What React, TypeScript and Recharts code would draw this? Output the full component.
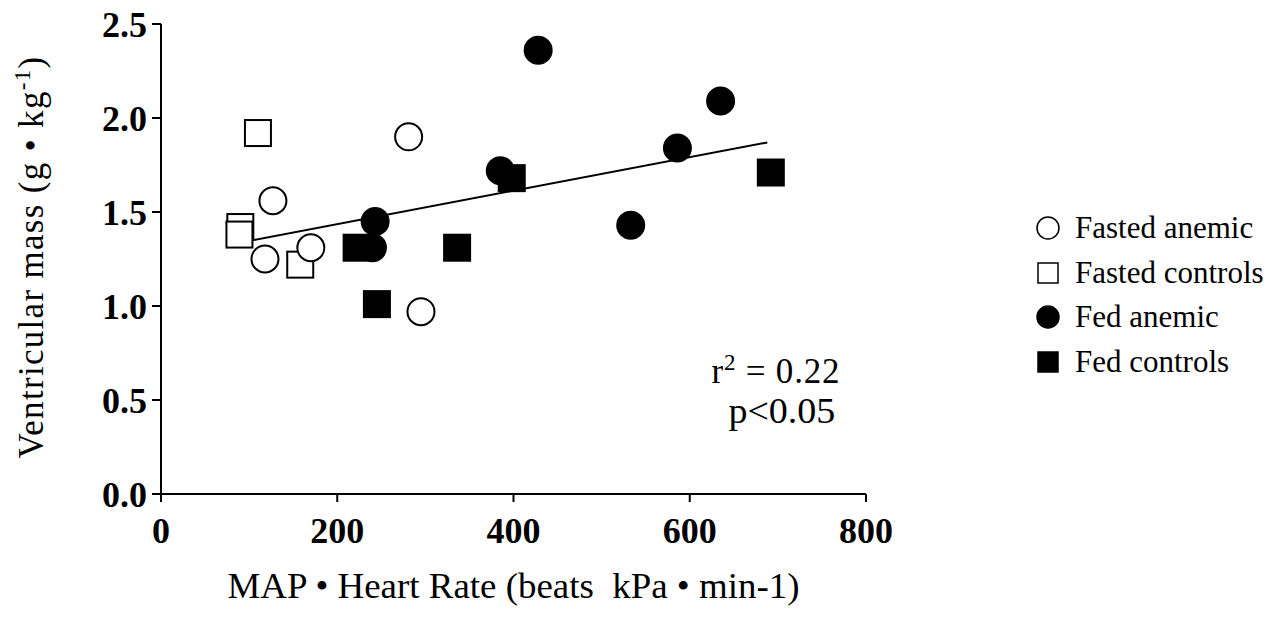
import { ScatterChart, Scatter, XAxis, YAxis, ReferenceDot } from "recharts";

// values
const fastedAnemic = [
  { x: 118, y: 1.25 },
  { x: 127, y: 1.56 },
  { x: 170, y: 1.31 },
  { x: 281, y: 1.9 },
  { x: 295, y: 0.97 },
];
const fastedControls = [
  { x: 110, y: 1.92 },
  { x: 90, y: 1.42 },
  { x: 89, y: 1.38 },
  { x: 158, y: 1.22 },
];
const fedAnemic = [
  { x: 243, y: 1.45 },
  { x: 240, y: 1.31 },
  { x: 385, y: 1.72 },
  { x: 428, y: 2.36 },
  { x: 533, y: 1.43 },
  { x: 586, y: 1.84 },
  { x: 635, y: 2.09 },
];
const fedControls = [
  { x: 222, y: 1.31 },
  { x: 245, y: 1.01 },
  { x: 336, y: 1.31 },
  { x: 398, y: 1.68 },
  { x: 692, y: 1.71 },
];
const fitLine = [
  { x: 104, y: 1.35 },
  { x: 688, y: 1.87 },
];
const xTicks = [0, 200, 400, 600, 800];
const yTicks = [0, 0.5, 1.0, 1.5, 2.0, 2.5];
const statsPos = { x: 700, y: 0.63 };

const FONT = "'Liberation Serif', 'Times New Roman', serif";

const legendItems = [
  { name: "Fasted anemic", shape: "circle", fill: "#fff" },
  { name: "Fasted controls", shape: "square", fill: "#fff" },
  { name: "Fed anemic", shape: "circle", fill: "#000" },
  { name: "Fed controls", shape: "square", fill: "#000" },
];

function makeShape(kind: string, fill: string) {
  return (props: any) => {
    const { cx, cy } = props;
    if (kind === "circle") {
      return <circle cx={cx} cy={cy} r={13.5} fill={fill} stroke="#000" strokeWidth={2} />;
    }
    return <rect x={cx - 13} y={cy - 13} width={26} height={26} fill={fill} stroke="#000" strokeWidth={2} />;
  };
}

function YLabel(props: any) {
  const { viewBox } = props;
  const x = viewBox.x + 43;
  const y = viewBox.y + viewBox.height / 2 - 2;
  return (
    <text
      x={x}
      y={y}
      transform={`rotate(-90, ${x}, ${y})`}
      textAnchor="middle"
      fontFamily={FONT}
      fontSize={35}
      letterSpacing={1.3}
      fill="#000"
    >
      Ventricular mass (g • kg
      <tspan dy={-13} fontSize={23}>-1</tspan>
      <tspan dy={13}>)</tspan>
    </text>
  );
}

function XLabel(props: any) {
  const { viewBox } = props;
  return (
    <text
      x={viewBox.x + viewBox.width / 2}
      y={viewBox.y + 104}
      textAnchor="middle"
      fontFamily={FONT}
      fontSize={35}
      textLength={572}
      lengthAdjust="spacingAndGlyphs"
      fill="#000"
    >
      {"MAP • Heart Rate (beats\u00a0 kPa • min-1)"}
    </text>
  );
}

function StatsLabel(props: any) {
  const { viewBox } = props;
  const cx = viewBox.x + (viewBox.width || 0) / 2;
  const cy = viewBox.y + (viewBox.height || 0) / 2;
  return (
    <g fontFamily={FONT} fontSize={35} fill="#000">
      <text x={cx - 2} y={cy + 7} textAnchor="middle" letterSpacing={0.8}>
        r<tspan dy={-13} fontSize={23}>2</tspan>
        <tspan dy={13}>{" = 0.22"}</tspan>
      </text>
      <text x={cx + 4} y={cy + 47} textAnchor="middle" textLength={107} lengthAdjust="spacingAndGlyphs">
        p&lt;0.05
      </text>
    </g>
  );
}

function Legend() {
  return (
    <div
      style={{
        position: "absolute",
        left: 1035,
        top: 206,
        fontFamily: FONT,
        fontSize: 31,
        color: "#000",
      }}
    >
      {legendItems.map((it) => (
        <div key={it.name} style={{ display: "flex", alignItems: "center", height: 44.5 }}>
          <svg width={26} height={26} style={{ marginRight: 14 }}>
            {it.shape === "circle" ? (
              <circle cx={13} cy={13} r={11} fill={it.fill} stroke="#000" strokeWidth={1.5} />
            ) : (
              <rect x={3} y={3} width={20} height={20} fill={it.fill} stroke="#000" strokeWidth={1.5} />
            )}
          </svg>
          <span>{it.name}</span>
        </div>
      ))}
    </div>
  );
}

const tickStyle = { fontFamily: FONT, fontSize: 36, fontWeight: "bold", fill: "#000" };

export default function App() {
  return (
    <div style={{ position: "absolute", left: 0, top: 0, width: 1280, height: 619, background: "#fff" }}>
      <ScatterChart width={1280} height={619} margin={{ top: 24, right: 414, bottom: 0, left: 0 }}>
        <XAxis
          type="number"
          dataKey="x"
          domain={[0, 800]}
          ticks={xTicks}
          interval={0}
          height={125}
          tick={tickStyle}
          tickSize={8}
          tickMargin={15}
          axisLine={{ stroke: "#000", strokeWidth: 2 }}
          tickLine={{ stroke: "#000", strokeWidth: 2 }}
          label={{ content: (p: any) => <XLabel {...p} /> }}
        />
        <YAxis
          type="number"
          dataKey="y"
          domain={[0, 2.5]}
          ticks={yTicks}
          interval={0}
          width={161}
          tick={tickStyle}
          tickFormatter={(v: number) => v.toFixed(1)}
          tickSize={9}
          tickMargin={5}
          axisLine={{ stroke: "#000", strokeWidth: 2 }}
          tickLine={{ stroke: "#000", strokeWidth: 2 }}
          label={{ content: (p: any) => <YLabel {...p} /> }}
        />
        <Scatter
          data={fitLine}
          line={{ stroke: "#000", strokeWidth: 2 }}
          shape={() => <g />}
          isAnimationActive={false}
        />
        <Scatter data={fastedControls} shape={makeShape("square", "#fff")} isAnimationActive={false} />
        <Scatter data={fastedAnemic} shape={makeShape("circle", "#fff")} isAnimationActive={false} />
        <Scatter data={fedAnemic} shape={makeShape("circle", "#000")} isAnimationActive={false} />
        <Scatter data={fedControls} shape={makeShape("square", "#000")} isAnimationActive={false} />
        <ReferenceDot
          x={statsPos.x}
          y={statsPos.y}
          r={0}
          fill="none"
          stroke="none"
          label={{ content: (p: any) => <StatsLabel {...p} /> }}
        />
      </ScatterChart>
      <Legend />
    </div>
  );
}
